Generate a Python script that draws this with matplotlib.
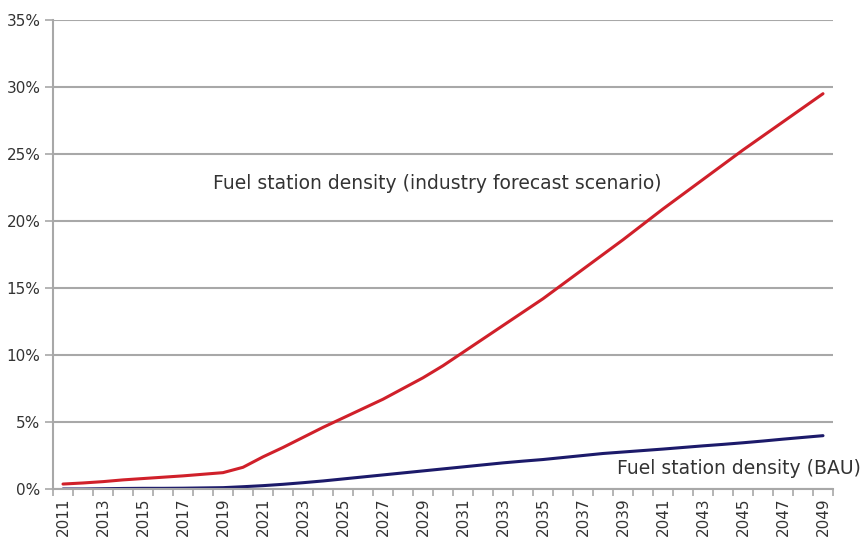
import matplotlib
matplotlib.use("Agg")
import matplotlib.pyplot as plt
from matplotlib.ticker import FixedLocator, PercentFormatter

plt.rcParams['font.family'] = ['DejaVu Sans']

years = list(range(2011, 2050))
industry = [0.37, 0.45, 0.55, 0.68, 0.78, 0.88, 0.98, 1.1, 1.22, 1.62,
            2.4, 3.1, 3.85, 4.6, 5.3, 6.0, 6.7, 7.5, 8.3, 9.2,
            10.2, 11.2, 12.2, 13.2, 14.2, 15.3, 16.4, 17.5, 18.6, 19.75,
            20.9, 22.0, 23.1, 24.2, 25.3, 26.35, 27.4, 28.45, 29.5]
bau = [0.0, 0.0, 0.02, 0.04, 0.05, 0.05, 0.06, 0.08, 0.1, 0.17,
       0.25, 0.35, 0.47, 0.6, 0.75, 0.9, 1.05, 1.2, 1.35, 1.5,
       1.65, 1.8, 1.95, 2.08, 2.2, 2.35, 2.5, 2.65, 2.76, 2.87,
       2.98, 3.1, 3.22, 3.33, 3.45, 3.58, 3.72, 3.85, 3.98]
label_industry = "Fuel station density (industry forecast scenario)"
label_bau = "Fuel station density (BAU)"

fig = plt.figure(figsize=(8.67, 5.41), dpi=100)
ax = fig.add_axes([53/867, 1-489/541, (833-53)/867, (489-20)/541])

x = list(range(len(years)))
ax.plot(x, industry, color='#d0202a', lw=2.2, solid_capstyle='round')
ax.plot(x, bau, color='#1c1a6a', lw=2.2, solid_capstyle='round')

ax.set_xlim(-0.5, len(years)-0.5)
ax.set_ylim(0, 35)
ax.set_yticks([0, 5, 10, 15, 20, 25, 30, 35])
ax.yaxis.set_major_formatter(PercentFormatter(decimals=0))
ax.grid(axis='y', color='#a8a8a8', lw=1.5)
ax.set_axisbelow(True)

ax.set_xticks(x[::2])
ax.set_xticklabels([str(y) for y in years[::2]], rotation=90)
ax.xaxis.set_minor_locator(FixedLocator([i+0.5 for i in range(-1, len(years))]))
ax.tick_params(axis='x', which='major', length=0, pad=6, labelsize=11, colors='#333333')
ax.tick_params(axis='x', which='minor', length=5, color='#a8a8a8', width=1.2)
ax.tick_params(axis='y', length=6, color='#a8a8a8', width=1.2, labelsize=11, colors='#333333', pad=3)

for s in ['top', 'right']:
    ax.spines[s].set_visible(False)
for s in ['left', 'bottom']:
    ax.spines[s].set_color('#a8a8a8')
    ax.spines[s].set_linewidth(1.5)

ax.text(7.5, 22.8, label_industry, fontsize=13.5, color='#333333', va='center', ha='left')
ax.text(27.7, 1.55, label_bau, fontsize=13.5, color='#333333', va='center', ha='left', clip_on=False)

fig.savefig("out.png", dpi=100)
